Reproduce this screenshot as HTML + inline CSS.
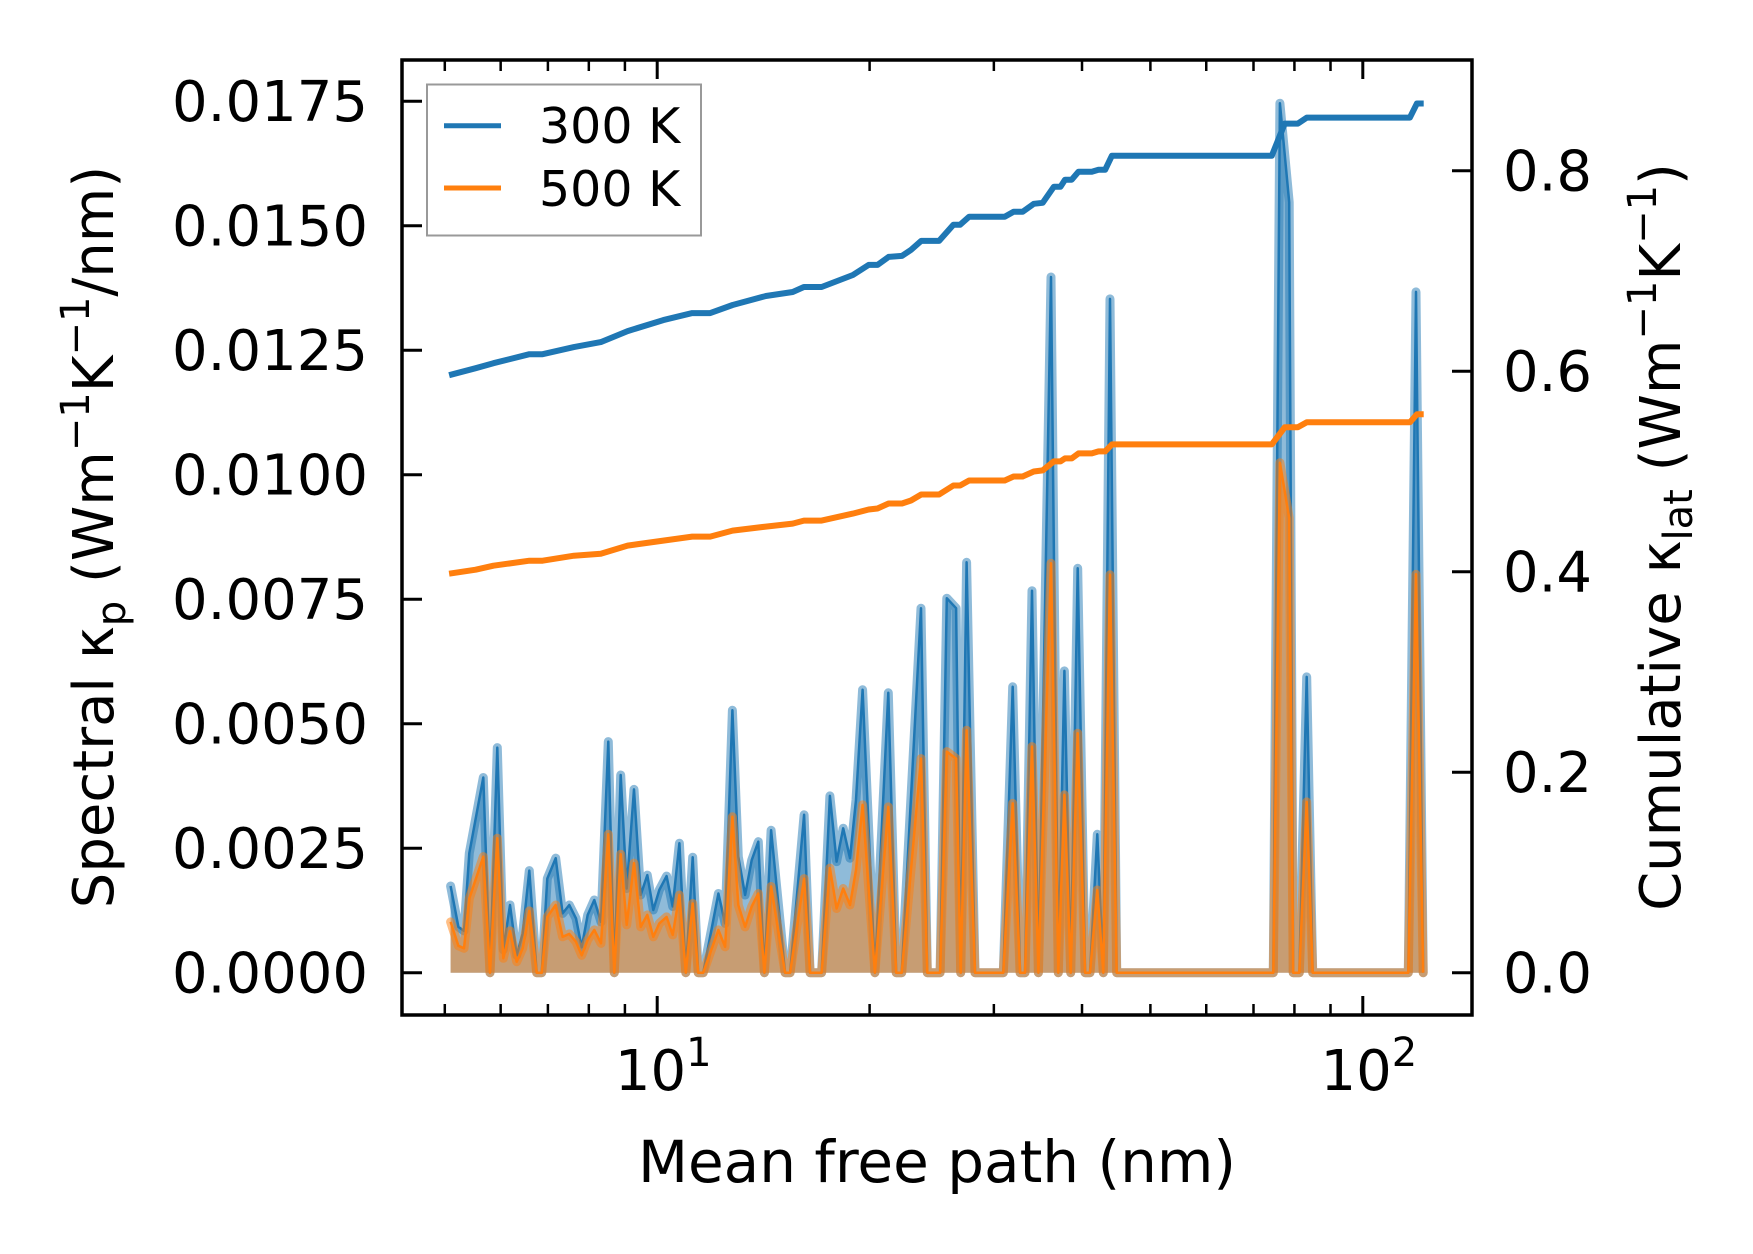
<!DOCTYPE html>
<html><head><meta charset="utf-8">
<style>
html,body{margin:0;padding:0;background:#fff;}
svg{display:block;font-family:"DejaVu Sans","Liberation Sans",sans-serif;}
</style></head>
<body>
<svg id="chart" width="1753" height="1254" viewBox="0 0 1753 1254" xmlns="http://www.w3.org/2000/svg">
  <rect x="0" y="0" width="1753" height="1254" fill="#fff"/>
  <g id="series"></g>
  <g id="axes"></g>
</svg>
<script>
// ---- data ----
const mfp = [5.096,5.227,5.324,5.416,5.669,5.794,5.934,6.052,6.185,6.322,6.447,6.588,6.749,6.860,6.986,7.180,7.345,7.506,7.671,7.816,7.970,8.145,8.325,8.525,8.694,8.878,9.053,9.271,9.476,9.683,9.874,10.07,10.31,10.52,10.75,10.98,11.23,11.43,11.62,12.21,12.48,12.78,13.03,13.32,13.61,13.91,14.19,14.50,15.18,15.43,16.15,16.47,17.10,17.57,17.96,18.35,18.76,19.13,19.55,20.35,21.26,21.81,22.21,23.65,24.14,25.17,25.73,26.52,26.92,27.45,28.21,30.94,31.90,32.68,33.21,33.98,34.69,36.15,37.02,37.76,38.55,39.44,40.40,41.06,42.05,42.88,43.83,44.80,74.66,76.31,78.66,79.68,81.28,83.27,84.92,116.0,118.97,121.8];
// spectral kappa, units of 1e-3 W m^-1 K^-1 / nm
const kp300 = [1.74,0.92,0.84,2.40,3.92,0,4.52,0.46,1.36,0.35,0.79,2.05,0,0,1.89,2.30,1.19,1.36,1.09,0.51,1.16,1.46,1.02,4.64,0,3.97,1.69,3.68,1.56,1.96,1.26,1.66,1.94,1.33,2.60,0,2.32,0,0,1.59,0.99,5.27,2.33,1.56,2.26,2.63,0,2.86,0,0,3.17,0,0,3.55,2.23,2.90,2.30,3.47,5.68,0,5.62,0,
  0,7.32,0,0,7.52,7.32,0,8.24,0,0,5.74,0,0,7.67,0,13.97,0,6.06,0,8.12,0,0,2.78,0,13.53,0,
  0,17.46,15.47,0,0,5.94,0,0,13.67,0];
const kp500 = [1.02,0.54,0.49,1.49,2.33,0,2.70,0.29,0.84,0.22,0.49,1.24,0,0,1.12,1.36,0.72,0.78,0.62,0.35,0.66,0.86,0.59,2.78,0,2.38,0.96,2.20,0.92,1.16,0.72,0.99,1.12,0.76,1.56,0,1.39,0,0,0.86,0.52,3.13,1.36,0.92,1.33,1.59,0,1.73,0,0,1.89,0,0,2.10,1.29,1.69,1.36,2.06,3.37,0,3.33,0,
  0,4.30,0,0,4.44,4.30,0,4.87,0,0,3.40,0,0,4.54,0,8.22,0,3.57,0,4.81,0,0,1.66,0,7.99,0,
  0,10.24,9.13,0,0,3.43,0,0,8.00,0];
const cumMfp = [5.07,5.53,5.86,6.59,6.88,7.62,8.32,9.08,10.20,11.21,11.89,12.79,14.26,15.56,16.14,17.10,18.94,19.94,20.52,21.28,22.23,22.89,23.67,25.09,26.29,26.87,27.67,31.08,32.0,32.95,34.18,35.18,36.49,37.29,37.84,38.67,39.54,41.30,42.21,43.14,44.1,74.3,77.5,80.9,83.3,116.6,119.3,122.0];
const cum300 = [0.596,0.603,0.608,0.617,0.617,0.624,0.629,0.640,0.651,0.658,0.658,0.666,0.675,0.679,0.684,0.684,0.696,0.706,0.706,0.714,0.715,0.721,0.730,0.730,0.746,0.746,0.754,0.754,0.759,0.759,0.767,0.768,0.784,0.784,0.791,0.791,0.799,0.799,0.801,0.801,0.815,0.815,0.847,0.847,0.853,0.853,0.867,0.867];
const cum500 = [0.398,0.402,0.406,0.411,0.411,0.416,0.418,0.426,0.431,0.435,0.435,0.441,0.445,0.448,0.451,0.451,0.458,0.462,0.463,0.468,0.468,0.471,0.477,0.477,0.486,0.486,0.491,0.491,0.495,0.495,0.500,0.501,0.510,0.510,0.513,0.513,0.518,0.518,0.520,0.520,0.527,0.527,0.544,0.544,0.549,0.549,0.557,0.557];
const leftTicks = [0,0.0025,0.005,0.0075,0.01,0.0125,0.015,0.0175];
const leftTickLabels = ["0.0000","0.0025","0.0050","0.0075","0.0100","0.0125","0.0150","0.0175"];
const rightTicks = [0,0.2,0.4,0.6,0.8];
const rightTickLabels = ["0.0","0.2","0.4","0.6","0.8"];
const xMajor = [10,100];
const xMajorExp = ["1","2"];
const xMinor = [5,6,7,8,9,20,30,40,50,60,70,80,90];

// ---- axes geometry ----
const L=402, R=1472, T=60, B=1015;
const X10=657.2, DEC=705.6;
function xs(v){return X10+(Math.log10(v)-1)*DEC;}
function yl(v){return 972.7 - v/0.0025*124.5;}
function yr(v){return 972.7 - v/0.2*200.5;}
const NS="http://www.w3.org/2000/svg";
function mk(tag,attrs,parent){const e=document.createElementNS(NS,tag);for(const k in attrs)e.setAttribute(k,attrs[k]);parent.appendChild(e);return e;}
const S=document.getElementById('series'), A=document.getElementById('axes');
const BLUE="#1f77b4", ORANGE="#ff7f0e";

function spectral(vals,color,name){
  const pts=mfp.map((m,i)=>xs(m).toFixed(1)+","+yl(vals[i]*1e-3).toFixed(1));
  const fillD="M"+xs(mfp[0]).toFixed(1)+","+yl(0)+" L"+pts.join(" L")+" L"+xs(mfp[mfp.length-1]).toFixed(1)+","+yl(0)+" Z";
  const f=mk('path',{d:fillD,fill:color,'fill-opacity':0.5,stroke:'none'},S);
  
  
  const h=mk('polyline',{points:pts.join(" "),fill:'none',stroke:color,'stroke-opacity':0.5,'stroke-width':9,'stroke-linejoin':'round','stroke-linecap':'round'},S);
  
  
  const l=mk('polyline',{points:pts.join(" "),fill:'none',stroke:color,'stroke-width':2.5,'stroke-linejoin':'round'},S);
  
  
}
spectral(kp300,BLUE,'spectral-300k');
spectral(kp500,ORANGE,'spectral-500k');

function cumulative(vals,color,name){
  const pts=cumMfp.map((m,i)=>xs(m).toFixed(1)+","+yr(vals[i]).toFixed(1)).join(" ");
  const l=mk('polyline',{points:pts,fill:'none',stroke:color,'stroke-width':6,'stroke-linejoin':'round'},S);
  
  
}
cumulative(cum300,BLUE,'cumulative-300k');
cumulative(cum500,ORANGE,'cumulative-500k');

// ticks
leftTicks.forEach((v,i)=>{
  const y=yl(v);
  const t=mk('line',{x1:L,x2:L+20,y1:y,y2:y,stroke:'#000','stroke-width':3},A);
  
  
  const tx=mk('text',{x:368,y:y+20,'text-anchor':'end','font-size':56,fill:'#000'},A);
  tx.textContent=leftTickLabels[i];
  
  
});
rightTicks.forEach((v,i)=>{
  const y=yr(v);
  const t=mk('line',{x1:R-20,x2:R,y1:y,y2:y,stroke:'#000','stroke-width':3},A);
  
  
  const tx=mk('text',{x:1503,y:y+20,'text-anchor':'start','font-size':56,fill:'#000'},A);
  tx.textContent=rightTickLabels[i];
  
  
});
xMajor.forEach((v,i)=>{
  const x=xs(v);
  [[B,B-19],[T,T+19]].forEach(p=>{
    const t=mk('line',{x1:x,x2:x,y1:p[0],y2:p[1],stroke:'#000','stroke-width':3},A);
    
    
  });
  const tx=mk('text',{x:x+6,y:1090,'text-anchor':'middle','font-size':56,fill:'#000'},A);
  
  
  const a=mk('tspan',{},tx); a.textContent="10";
  const b=mk('tspan',{dy:-24,'font-size':40},tx); b.textContent=xMajorExp[i];
});
xMinor.forEach(v=>{
  const x=xs(v);
  [[B,B-11],[T,T+11]].forEach(p=>{
    const t=mk('line',{x1:x,x2:x,y1:p[0],y2:p[1],stroke:'#000','stroke-width':2.5},A);
    
    
  });
});
const frame=mk('rect',{x:L,y:T,width:R-L,height:B-T,fill:'none',stroke:'#000','stroke-width':3.5},A);


</script>
<svg style="position:absolute;left:0;top:0" width="1753" height="1254" viewBox="0 0 1753 1254" xmlns="http://www.w3.org/2000/svg">
  <g font-family="DejaVu Sans, Liberation Sans, sans-serif">
    <rect x="427" y="84.5" width="274" height="151" fill="#fff" fill-opacity="0.8" stroke="#999" stroke-width="2"/>
    <line x1="444" y1="125.7" x2="501" y2="125.7" stroke="#1f77b4" stroke-width="5"/>
    <text x="539" y="143" font-size="49" fill="#000">300 K</text>
    <line x1="444" y1="188" x2="501" y2="188" stroke="#ff7f0e" stroke-width="5"/>
    <text x="539" y="206" font-size="49" fill="#000">500 K</text>
  </g>
  <text x="937" y="1182" text-anchor="middle" font-size="58" font-family="DejaVu Sans, Liberation Sans, sans-serif" fill="#000">Mean free path (nm)</text>
  <text transform="translate(113,537) rotate(-90)" text-anchor="middle" font-size="56" font-family="DejaVu Sans, Liberation Sans, sans-serif" fill="#000">Spectral κ<tspan font-size="40" dy="12">p</tspan><tspan dy="-12"> (Wm</tspan><tspan font-size="40" dy="-24">−1</tspan><tspan dy="24">K</tspan><tspan font-size="40" dy="-24">−1</tspan><tspan dy="24">/nm)</tspan></text>
  <text transform="translate(1680,537) rotate(-90)" text-anchor="middle" font-size="56" font-family="DejaVu Sans, Liberation Sans, sans-serif" fill="#000">Cumulative κ<tspan font-size="40" dy="12">lat</tspan><tspan dy="-12"> (Wm</tspan><tspan font-size="40" dy="-24">−1</tspan><tspan dy="24">K</tspan><tspan font-size="40" dy="-24">−1</tspan><tspan dy="24">)</tspan></text>
</svg>
</body></html>
